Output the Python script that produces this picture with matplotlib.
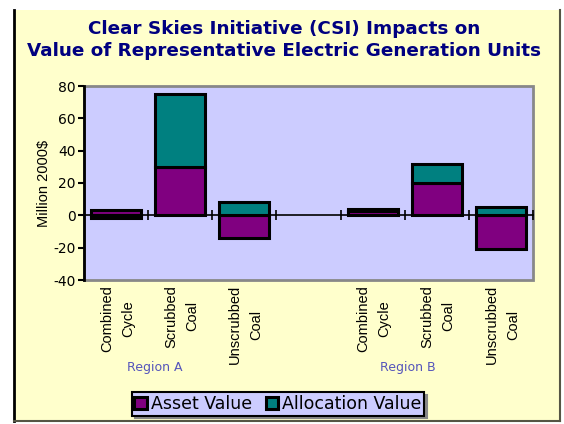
import numpy as np
import matplotlib.pyplot as plt
from matplotlib.patches import Rectangle

# data
categories = ["Combined\nCycle", "Scrubbed\nCoal", "Unscrubbed\nCoal", "",
              "Combined\nCycle", "Scrubbed\nCoal", "Unscrubbed\nCoal"]
asset = [3, 30, -14, 0, 2.5, 20, -21]
allocation = [-1.5, 45, 8, 0, 1.5, 12, 5]
regions = ["Region A", "Region B"]
region_pos = [0.6, 4.55]
yticks = [-40, -20, 0, 20, 40, 60, 80]

plt.rcParams['font.family'] = ['Liberation Sans', 'DejaVu Sans']
plt.rcParams['axes.unicode_minus'] = False

fig = plt.figure(figsize=(5.64, 4.24), dpi=100)
fig.patch.set_facecolor('white')
# outer yellow frame
fig.add_artist(Rectangle((14/564, 3/424), 546/564, 411/424, transform=fig.transFigure,
                         facecolor='#FFFFCC', edgecolor='none', zorder=-5))
fig.add_artist(plt.Line2D([14/564, 14/564], [3/424, 414/424], color='black', lw=2, zorder=-4))
fig.add_artist(plt.Line2D([560/564, 560/564], [3/424, 414/424], color='#555544', lw=1.5, zorder=-4))
fig.add_artist(plt.Line2D([14/564, 560/564], [3/424, 3/424], color='#555544', lw=1.5, zorder=-4))

ax = fig.add_axes([84/564, 1 - 280/424, 449/564, 194/424])
ax.set_zorder(1)
ax.set_facecolor('#CCCCFF')

x = np.arange(len(categories))
asset = np.array(asset, dtype=float)
allocation = np.array(allocation, dtype=float)
# excel-style stacking: positives up, negatives down
alloc_bottom = np.where(allocation >= 0, np.maximum(asset, 0), np.minimum(asset, 0))
show = np.array([c != "" for c in categories])

ax.bar(x[show], asset[show], width=0.78, color='#800080', edgecolor='black',
       linewidth=2.2, label='Asset Value', zorder=3)
ax.bar(x[show], allocation[show], width=0.78, bottom=alloc_bottom[show], color='#008080',
       edgecolor='black', linewidth=2.2, label='Allocation Value', zorder=3)

ax.set_xlim(-0.5, len(categories) - 0.5)
ax.set_ylim(-40, 80)
ax.set_yticks(yticks)
ax.tick_params(axis='y', labelsize=10, length=4, width=1.5, direction='out', pad=2)
for t in ax.get_yticklabels():
    t.set_family('DejaVu Sans')

ax.spines['bottom'].set_position(('data', 0))
ax.spines['bottom'].set_linewidth(1.2)
ax.spines['left'].set_linewidth(2)
ax.spines['top'].set_visible(False)
ax.spines['right'].set_visible(False)
ax.set_xticks(np.arange(len(categories)) + 0.5)
ax.set_xticklabels([])
ax.tick_params(axis='x', direction='inout', length=7, width=1.2)

# grey shadow border of the plot area
ax.add_patch(Rectangle((0, 0), 1, 1, transform=ax.transAxes, fill=False,
                       edgecolor='#888888', lw=2, clip_on=False, zorder=1))

ax.set_ylabel('Million 2000$', fontsize=10.5, labelpad=2)

trans = ax.get_xaxis_transform()
for xi, lab in zip(x, categories):
    ax.text(xi + 0.02, -0.025, lab, transform=trans, rotation=90, ha='center', va='top',
            multialignment='center', fontsize=10.5, linespacing=1.65)
for rx, r in zip(region_pos, regions):
    ax.text(rx, -0.45, r, transform=trans, ha='center', va='center',
            fontsize=9, color='#5555BB', family='DejaVu Sans')

fig.text(0.503, 0.905, 'Clear Skies Initiative (CSI) Impacts on\n'
         'Value of Representative Electric Generation Units',
         ha='center', va='center', fontsize=13.2, fontweight='bold', color='#000080',
         linespacing=1.3, family='DejaVu Sans')

leg = fig.legend(loc='center', bbox_to_anchor=(0.493, 0.047), ncol=2,
                 prop={'family': 'DejaVu Sans', 'size': 12.5},
                 frameon=True, fancybox=False, shadow={'color': '#888888', 'alpha': 1},
                 handlelength=0.7, handleheight=0.7,
                 handletextpad=0.25, columnspacing=0.8, borderpad=0.15,
                 borderaxespad=0)
leg.get_frame().set_facecolor('#CCCCFF')
leg.get_frame().set_edgecolor('black')
leg.get_frame().set_linewidth(1.5)

fig.savefig('out.png', dpi=100)
